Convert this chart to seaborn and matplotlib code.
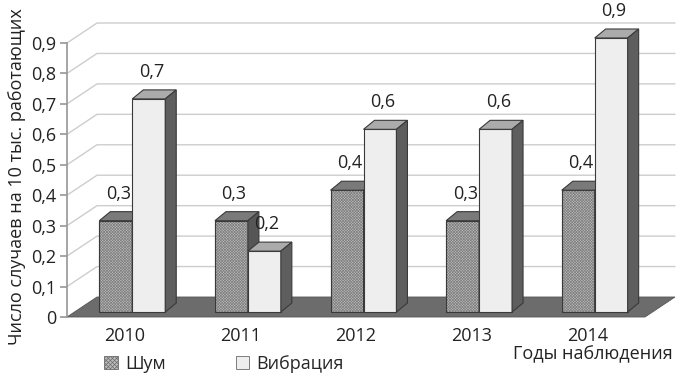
import matplotlib

matplotlib.use("Agg")

import matplotlib.pyplot as plt
import pandas as pd
import seaborn as sns
from matplotlib.patches import Patch, Polygon
from matplotlib.transforms import Affine2D, IdentityTransform

years = ["2010", "2011", "2012", "2013", "2014"]
noise = [0.3, 0.3, 0.4, 0.3, 0.4]
vibration = [0.7, 0.2, 0.6, 0.6, 0.9]
series = ["Шум", "Вибрация"]
y_ticks = [0, 0.1, 0.2, 0.3, 0.4, 0.5, 0.6, 0.7, 0.8, 0.9]

# pseudo-3D geometry, in pixels
FLOOR_DEPTH = (30, 20)
BAR_SHIFT = (7.5, 5)
BAR_DEPTH = (11, 9)

FRONT = {"Шум": "#bdbdbd", "Вибрация": "#eeeeee"}
TOP = {"Шум": "#7a7a7a", "Вибрация": "#ababab"}
SIDE = {"Шум": "#565656", "Вибрация": "#5e5e5e"}
EDGE = "#3a3a3a"
FS = 13

sns.set_theme(style="white")
plt.rcParams["font.family"] = ["Open Sans", "DejaVu Sans"]
plt.rcParams["hatch.linewidth"] = 0.5

df = pd.DataFrame({
    "year": years * 2,
    "value": noise + vibration,
    "series": [series[0]] * len(years) + [series[1]] * len(years),
})

fig = plt.figure(figsize=(6.76, 3.76), dpi=100)
ax = fig.add_axes([67 / 676, 59 / 376, 578 / 676, 274 / 376])
ax.set_facecolor("none")

sns.barplot(data=df, x="year", y="value", hue="series", hue_order=series,
            palette=[FRONT[s] for s in series], width=0.57, gap=0,
            edgecolor=EDGE, linewidth=0.8, legend=False, ax=ax)

ax.set_xlim(-0.5, len(years) - 0.5)
ax.set_ylim(0, 0.9)
ax.set_yticks(y_ticks)
ax.set_yticklabels([("0" if v == 0 else f"{v:.1f}".replace(".", ",")) for v in y_ticks])
ax.set_xlabel("")
ax.set_ylabel("")
for side in ["top", "right", "bottom"]:
    ax.spines[side].set_visible(False)
ax.spines["left"].set_color("#9a9a9a")
ax.tick_params(axis="y", left=True, length=5, color="#9a9a9a", labelsize=FS,
               labelcolor="#222222", pad=3)
ax.tick_params(axis="x", bottom=False, labelsize=FS, labelcolor="#222222", pad=1)

ident = IdentityTransform()
fdx, fdy = FLOOR_DEPTH
x_lo, x_hi = ax.get_xlim()

# back wall grid lines, slanting in from the value axis
for v in y_ticks[1:]:
    p0 = ax.transData.transform((x_lo, v))
    p2 = ax.transData.transform((x_hi, v))
    ax.plot([p0[0], p0[0] + fdx, p2[0] + fdx], [p0[1], p0[1] + fdy, p2[1] + fdy],
            color="#cdcdcd", lw=1, transform=ident, clip_on=False, zorder=0.5)

# floor
f0 = ax.transData.transform((x_lo, 0))
f1 = ax.transData.transform((x_hi, 0))
floor = Polygon([f0, f1, (f1[0] + fdx, f1[1] + fdy), (f0[0] + fdx, f0[1] + fdy)],
                closed=True, facecolor="#6c6c6c", edgecolor="#555555", lw=0.6,
                transform=ident, clip_on=False, zorder=1)
ax.add_patch(floor)

# extrude bars
shift = ax.transData + Affine2D().translate(*BAR_SHIFT)
bdx, bdy = BAR_DEPTH
for k, (name, container) in enumerate(zip(series, ax.containers)):
    for i, bar in enumerate(container):
        z = 3 + i + 0.5 * k
        bar.set_transform(shift)
        bar.set_clip_on(False)
        bar.set_zorder(z)
        x0, w, h = bar.get_x(), bar.get_width(), bar.get_height()
        bl = shift.transform((x0, 0))
        tr = shift.transform((x0 + w, h))
        if name == "Шум":
            # hatch takes the edge colour, so outline separately
            bar.set_hatch("xxxxxxxxxxxx")
            bar.set_edgecolor("#808080")
            outline = Polygon([bl, (tr[0], bl[1]), tr, (bl[0], tr[1])], closed=True,
                              fill=False, edgecolor=EDGE, lw=0.8, transform=ident,
                              clip_on=False, zorder=z + 0.05)
            ax.add_patch(outline)
        top = Polygon([(bl[0], tr[1]), (tr[0], tr[1]), (tr[0] + bdx, tr[1] + bdy),
                       (bl[0] + bdx, tr[1] + bdy)], closed=True,
                      facecolor=TOP[name], edgecolor=EDGE, lw=0.8,
                      transform=ident, clip_on=False, zorder=z + 0.1)
        sd = Polygon([(tr[0], bl[1]), (tr[0], tr[1]), (tr[0] + bdx, tr[1] + bdy),
                      (tr[0] + bdx, bl[1] + bdy)], closed=True,
                     facecolor=SIDE[name], edgecolor=EDGE, lw=0.8,
                     transform=ident, clip_on=False, zorder=z + 0.2)
        ax.add_patch(top)
        ax.add_patch(sd)
        ax.text((bl[0] + tr[0]) / 2 + bdx * 0.25, tr[1] + 27,
                f"{h:.1f}".replace(".", ","), transform=ident, ha="center",
                va="center", fontsize=FS, color="#222222", zorder=20)

fig.text(17 / 676, 1 - 8 / 376, "Число случаев на 10 тыс. работающих", rotation=90,
         ha="center", va="top", fontsize=FS, color="#222222")
fig.text(673 / 676, 1 - 354 / 376, "Годы наблюдения", ha="right", va="center",
         fontsize=FS, color="#222222")

handles = [
    Patch(facecolor=FRONT["Шум"], edgecolor="#6a6a6a", hatch="xxxxxxxx", lw=0.6),
    Patch(facecolor=FRONT["Вибрация"], edgecolor="#6a6a6a", lw=0.6),
]
fig.legend(handles, series, loc="upper left", bbox_to_anchor=(104 / 676, 1 - 355 / 376),
           ncol=2, frameon=False, columnspacing=3.9, handlelength=0.75,
           handleheight=0.75, handletextpad=0.4, fontsize=FS, borderpad=0,
           borderaxespad=0)

fig.savefig("out.png", dpi=100)
